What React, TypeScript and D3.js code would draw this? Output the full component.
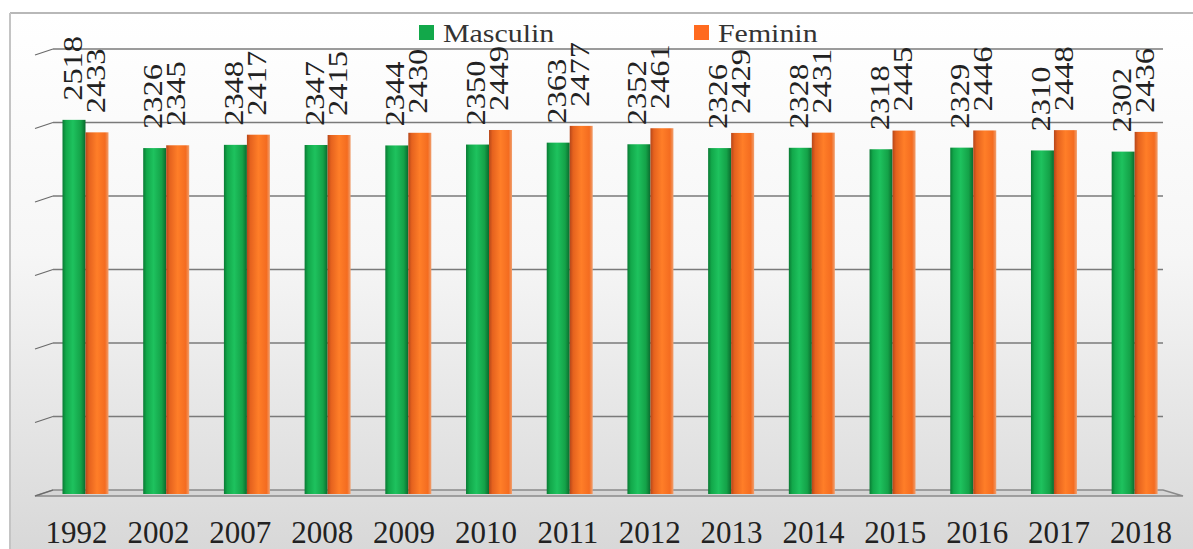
import React from "react";
import * as d3 from "d3";

const years = ["1992", "2002", "2007", "2008", "2009", "2010", "2011", "2012", "2013", "2014", "2015", "2016", "2017", "2018"];
const masculin = [2518, 2326, 2348, 2347, 2344, 2350, 2363, 2352, 2326, 2328, 2318, 2329, 2310, 2302];
const feminin = [2433, 2345, 2417, 2415, 2430, 2449, 2477, 2461, 2429, 2431, 2445, 2446, 2448, 2436];
const seriesNames = ["Masculin", "Feminin"];
const yTicks = [0, 500, 1000, 1500, 2000, 2500, 3000];

const W = 1193;
const H = 549;
const SERIF = "'Liberation Serif', 'Times New Roman', serif";

export default function App() {
  const wallLeft = 53;
  const wallRight = 1163;
  const floorFrontLeft = 35;
  const floorFrontRight = 1183;
  const depth = 6;

  const y = d3.scaleLinear().domain([0, 3000]).range([490, 49]);
  const x = d3
    .scaleBand<string>()
    .domain(years)
    .range([45.15, 1175])
    .paddingInner(0.43)
    .paddingOuter(0.215);
  const xInner = d3.scaleBand<string>().domain(["m", "f"]).range([0, x.bandwidth()]);
  const xLabel = d3.scalePoint<string>().domain(years).range([76.5, 1141]);

  const series = [
    { key: "m", values: masculin, fill: "url(#gGreen)" },
    { key: "f", values: feminin, fill: "url(#gOrange)" },
  ];

  const valFont = 28;

  return (
    <svg
      width={W}
      height={H}
      style={{ position: "absolute", left: 0, top: 0 }}
      xmlns="http://www.w3.org/2000/svg"
    >
      <defs>
        <linearGradient id="bg" x1="0" y1="0" x2="0" y2="1">
          <stop offset="0%" stopColor="#ffffff" />
          <stop offset="45%" stopColor="#f6f6f6" />
          <stop offset="100%" stopColor="#d8d8d8" />
        </linearGradient>
        <linearGradient id="gGreen" x1="0" y1="0" x2="1" y2="0">
          <stop offset="0%" stopColor="#0a7a34" />
          <stop offset="15%" stopColor="#12a84a" />
          <stop offset="45%" stopColor="#1ec25e" />
          <stop offset="80%" stopColor="#14a248" />
          <stop offset="100%" stopColor="#0b6a2e" />
        </linearGradient>
        <linearGradient id="gOrange" x1="0" y1="0" x2="1" y2="0">
          <stop offset="0%" stopColor="#b5461a" />
          <stop offset="15%" stopColor="#e5621e" />
          <stop offset="50%" stopColor="#ff7e28" />
          <stop offset="85%" stopColor="#f46c20" />
          <stop offset="100%" stopColor="#f0a070" />
        </linearGradient>
      </defs>

      {/* background + frame */}
      <rect x={10} y={13} width={W - 10} height={H - 13} fill="url(#bg)" />
      <line x1={10} y1={13} x2={W} y2={13} stroke="#b8b8b8" strokeWidth={2} />
      <line x1={10} y1={13} x2={10} y2={H} stroke="#c4c4c4" strokeWidth={2} />

      {/* floor */}
      <polygon
        points={`${wallLeft},${y(0)} ${wallRight},${y(0)} ${floorFrontRight},${y(0) + depth} ${floorFrontLeft},${y(0) + depth}`}
        fill="#d6d6d6"
        stroke="#8a8a8a"
        strokeWidth={1.5}
      />

      {/* gridlines with side stubs */}
      {yTicks.map((t) => (
        <g key={t}>
          {t > 0 && (
            <line x1={wallLeft} y1={y(t)} x2={wallRight} y2={y(t)} stroke="#7a7a7a" strokeWidth={1.5} />
          )}
          <line
            x1={floorFrontLeft}
            y1={y(t) + depth}
            x2={wallLeft}
            y2={y(t)}
            stroke="#6a6a6a"
            strokeWidth={1.3}
          />
        </g>
      ))}

      {/* legend */}
      <g fontFamily={SERIF} fontSize={26} fill="#333">
        <rect x={419} y={25} width={15} height={15} fill="#12a84a" />
        <text transform="translate(443,42) scale(1.15,1)">{seriesNames[0]}</text>
        <rect x={694} y={25} width={15} height={15} fill="#ff6a1f" />
        <text transform="translate(718,42) scale(1.15,1)">{seriesNames[1]}</text>
      </g>

      {/* bars */}
      {years.map((yr, i) => (
        <g key={yr}>
          {series.map((s) => {
            const bx = (x(yr) ?? 0) + (xInner(s.key) ?? 0);
            const top = y(s.values[i]);
            return (
              <rect
                key={s.key}
                x={bx}
                y={top}
                width={xInner.bandwidth()}
                height={y(0) + 4 - top}
                fill={s.fill}
              />
            );
          })}
        </g>
      ))}

      {/* value labels */}
      {years.map((yr, i) => (
        <g key={"v" + yr} fontFamily={SERIF} fontSize={valFont} fill="#222">
          {series.map((s) => {
            const cx = (x(yr) ?? 0) + (xInner(s.key) ?? 0) + xInner.bandwidth() / 2;
            const top = y(s.values[i]);
            return (
              <text
                key={s.key}
                transform={`translate(${cx + valFont * 0.27},${top - 19}) rotate(-90) scale(1.16,1)`}
              >
                {s.values[i]}
              </text>
            );
          })}
        </g>
      ))}

      {/* year labels */}
      <g fontFamily={SERIF} fontSize={31} fill="#222" textAnchor="middle">
        {years.map((yr) => (
          <text key={yr} x={xLabel(yr)} y={543}>
            {yr}
          </text>
        ))}
      </g>
    </svg>
  );
}
